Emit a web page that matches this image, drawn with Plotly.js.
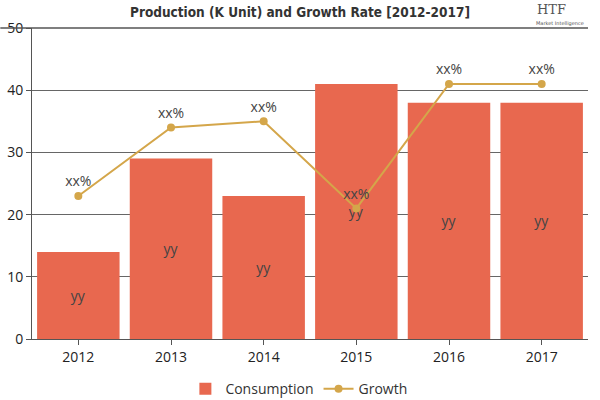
<!DOCTYPE html>
<html>
<head>
<meta charset="utf-8">
<script src="https://cdn.plot.ly/plotly-3.0.1.min.js"></script>
<style>html,body{margin:0;padding:0;background:#fff;}#chart{width:600px;height:400px;}</style>
</head>
<body>
<div id="chart"></div>
<script>
var years = ['2012','2013','2014','2015','2016','2017'];
var consumption = [14, 29, 23, 41, 38, 38];
var growth = [23, 34, 35, 21, 41, 41];
var barLabels = ['yy','yy','yy','yy','yy','yy'];
var growthLabels = ['xx%','xx%','xx%','xx%','xx%','xx%'];
var yTicks = [0, 10, 20, 30, 40, 50];

var traces = [
  {
    type: 'bar', name: 'Consumption', x: years, y: consumption,
    text: barLabels, textposition: 'inside', insidetextanchor: 'middle',
    textfont: {family: 'Open Sans, sans-serif', size: 14, color: '#444'},
    marker: {color: '#E8684F'}, hoverinfo: 'none'
  },
  {
    type: 'scatter', name: 'Growth', x: years, y: growth,
    mode: 'lines+markers+text', text: growthLabels, textposition: 'top center',
    textfont: {family: 'Open Sans, sans-serif', size: 14, color: '#444'},
    line: {color: '#D4A64A', width: 2}, marker: {color: '#D4A64A', size: 8},
    hoverinfo: 'none'
  }
];

var layout = {
  width: 600, height: 400,
  margin: {l: 32, r: 12, t: 28, b: 61, autoexpand: false},
  paper_bgcolor: '#fff', plot_bgcolor: '#fff',
  bargap: 0.11,
  font: {family: 'Open Sans, sans-serif', color: '#333'},
  title: {
    text: 'Production (K Unit) and Growth Rate [2012-2017]',
    font: {family: 'DejaVu Sans Condensed, sans-serif', size: 13.5, color: '#333', weight: 'bold'},
    x: 0.5, xanchor: 'center', y: 0.97, yanchor: 'middle'
  },
  xaxis: {
    type: 'category', showline: true, linecolor: '#555', linewidth: 1,
    ticks: 'outside', ticklen: 5, tickcolor: '#555',
    tickfont: {size: 14, color: '#222'}, showgrid: false, automargin: false
  },
  yaxis: {
    range: [0, 50], tickvals: yTicks, showgrid: true, gridcolor: '#666', gridwidth: 1,
    showline: true, linecolor: '#555', linewidth: 1, ticks: 'outside', ticklen: 5, tickcolor: '#555',
    tickfont: {size: 14, color: '#222'}, zeroline: false, automargin: false
  },
  legend: {
    orientation: 'h', x: 0.48, xanchor: 'center', y: -0.11, yanchor: 'top',
    font: {size: 14, color: '#333'}, itemwidth: 30
  },
  shapes: [
    {type: 'line', xref: 'paper', yref: 'paper', x0: -0.057, x1: 1.0, y0: 1, y1: 1,
     line: {color: '#555', width: 1.5}}
  ],
  annotations: [
    {xref: 'paper', yref: 'paper', x: 0.935, y: 1.06, xanchor: 'center', yanchor: 'middle',
     text: 'HTF', showarrow: false, font: {family: 'DejaVu Serif, serif', size: 13, color: '#555'}},
    {xref: 'paper', yref: 'paper', x: 0.95, y: 1.015, xanchor: 'center', yanchor: 'middle',
     text: 'Market Intelligence', showarrow: false, font: {family: 'DejaVu Sans, sans-serif', size: 5, color: '#555'}}
  ]
};

Plotly.newPlot('chart', traces, layout, {displayModeBar: false, staticPlot: true});
</script>
</body>
</html>
